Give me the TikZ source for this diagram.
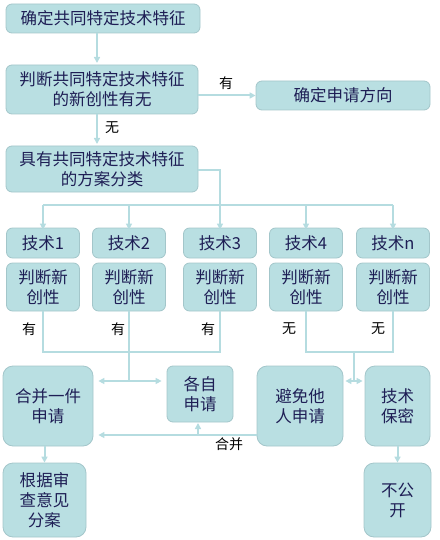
\documentclass[tikz,border=0pt]{standalone}
\usepackage{fontspec}
\setmainfont{Noto Sans CJK SC}
\usetikzlibrary{arrows.meta}
\definecolor{boxfill}{HTML}{B9DFE2}
\definecolor{boxline}{HTML}{A3C6CA}
\definecolor{linkcol}{HTML}{B5DCE0}
\definecolor{textcol}{HTML}{1E1E55}

\begin{document}
\begin{tikzpicture}[x=1pt,y=-1pt,
  box/.style={draw=boxline,fill=boxfill,rounded corners=6pt,line width=0.8pt,
    text=textcol,align=center,inner sep=0pt,font=\fontsize{16.5}{20}\selectfont},
  bigbox/.style={box,rounded corners=10pt},
  link/.style={draw=linkcol,line width=2pt},
  arrow/.style={link,-{Triangle[length=6pt,width=6pt]}},
  darrow/.style={link,{Triangle[length=6pt,width=6pt]}-{Triangle[length=6pt,width=6pt]}},
  tag/.style={font=\fontsize{14}{16}\selectfont}]
  \useasboundingbox (0,0) rectangle (439,540);
  % top part
  \node[box,minimum width=194pt,minimum height=29pt] (fix) at (103,18.5) {确定共同特定技术特征};
  \node[box,minimum width=192pt,minimum height=49pt] (judge) at (102,89.5) {判断共同特定技术特征\\的新创性有无};
  \node[box,minimum width=174pt,minimum height=29pt] (dir) at (343,95.5) {确定申请方向};
  \node[box,minimum width=192pt,minimum height=46pt] (class) at (102,169) {具有共同特定技术特征\\的方案分类};
  \draw[arrow] (97,33) -- (97,63);
  \draw[arrow] (judge.east |- dir) -- (dir.west);
  \node[tag] (has) at (226,83) {有};
  \draw[arrow] (97,114) -- (97,144);
  \node[tag] (none) at (112,128) {无};
  % technologies
  \foreach \i/\x/\t in {1/43/技术1,2/129/技术2,3/220/技术3,4/306/技术4,5/393/技术n}{
    \node[box,minimum width=73pt,minimum height=30pt] (t\i) at (\x,243) {\t};
    \node[box,minimum width=73pt,minimum height=48pt] (n\i) at (\x,287) {判断新\\创性};
  }
  \coordinate (bus) at (220,205);
  \draw[link] (class.east |- 0,170) -| (bus);
  \draw[link] (t1.north |- bus) -- (t5.north |- bus);
  \foreach \i in {1,...,5}
    \draw[arrow] (t\i.north |- bus) -- ([yshift=-2pt]t\i.north);
  % results
  \node[bigbox,minimum width=90pt,minimum height=80pt] (merge) at (48,406) {合并一件\\申请};
  \node[box,minimum width=66pt,minimum height=56pt] (each) at (200,394) {各自\\申请};
  \node[bigbox,minimum width=86pt,minimum height=80pt] (avoid) at (300,406) {避免他\\人申请};
  \node[bigbox,minimum width=65pt,minimum height=80pt] (secret) at (397.5,406) {技术\\保密};
  \node[bigbox,minimum width=83pt,minimum height=74pt] (split) at (44.5,500) {根据审\\查意见\\分案};
  \node[bigbox,minimum width=67pt,minimum height=74pt] (nopub) at (397.5,500) {不公\\开};
  \coordinate (yes) at (0,352);
  \coordinate (hub) at (0,381);
  \draw[link] (n1.south) -- (n1.south |- yes) -- (n3.south |- yes) -- (n3.south);
  \draw[link] (n2.south) -- (n2.south |- hub);
  \draw[darrow,shorten <=5pt,shorten >=5pt] (merge.east |- hub) -- (each.west |- hub);
  \draw[link] (n4.south) -- (n4.south |- yes) -- (n5.south |- yes) -- (n5.south);
  \draw[link] (354,352) -- (354,381);
  \draw[darrow,shorten <=2pt,shorten >=2pt] (avoid.east |- hub) -- (secret.west |- hub);
  \node[tag] (y1) at (29,329) {有};
  \node[tag] (y2) at (118,329) {有};
  \node[tag] (y3) at (208,329) {有};
  \node[tag] (w4) at (289,329) {无};
  \node[tag] (w5) at (378,329) {无};
  \coordinate (join) at (0,435);
  \draw[arrow,shorten >=5pt] (avoid.west |- join) -- (merge.east |- join);
  \draw[arrow] (198,435) -- (198,423);
  \node[tag] (mergetag) at (229,444) {合并};
  \draw[arrow] (split.north |- merge.south) -- (split.north);
  \draw[arrow] (nopub.north |- secret.south) -- (nopub.north);
\end{tikzpicture}
\end{document}
